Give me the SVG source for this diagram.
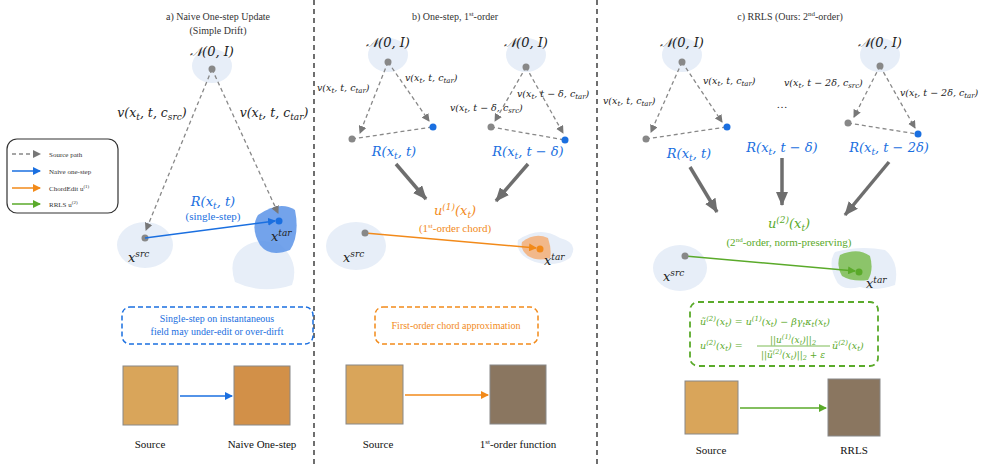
<svg xmlns="http://www.w3.org/2000/svg" width="988" height="464" viewBox="0 0 988 464" font-family="'Liberation Serif','Times New Roman',serif">
<defs>
<marker id="ag" markerWidth="8" markerHeight="8" refX="7" refY="4" orient="auto" markerUnits="userSpaceOnUse"><path d="M0,0 L8,4 L0,8z" fill="#777"/></marker>
<marker id="ab" markerWidth="8" markerHeight="8" refX="7" refY="4" orient="auto" markerUnits="userSpaceOnUse"><path d="M0,0 L8,4 L0,8z" fill="#1a6fe0"/></marker>
<marker id="ao" markerWidth="8" markerHeight="8" refX="7" refY="4" orient="auto" markerUnits="userSpaceOnUse"><path d="M0,0 L8,4 L0,8z" fill="#f28a1a"/></marker>
<marker id="agr" markerWidth="8" markerHeight="8" refX="7" refY="4" orient="auto" markerUnits="userSpaceOnUse"><path d="M0,0 L8,4 L0,8z" fill="#5aaa2a"/></marker>
<marker id="abig" markerWidth="14" markerHeight="12" refX="13" refY="6" orient="auto" markerUnits="userSpaceOnUse"><path d="M0,0 L14,6 L0,12z" fill="#6e6e6e"/></marker>
</defs>
<style>
text{font-family:"Liberation Serif","Times New Roman",serif}
.t{fill:#333;font-weight:normal}
.m{font-family:"DejaVu Serif","Liberation Serif",serif;font-style:italic;fill:#222}
.bl{fill:#1a6fe0}.or{fill:#f28a1a}.gr{fill:#5aaa2a}
.blob{fill:#e7eef8}
.sd{stroke:#888;stroke-width:1.3;stroke-dasharray:4 3;fill:none}
.big{stroke:#6e6e6e;stroke-width:3.5;fill:none}
.div{stroke:#222;stroke-width:1.3;stroke-dasharray:5 4}
</style>
<rect width="988" height="464" fill="#fff"/>
<line class="div" x1="314" y1="0" x2="314" y2="464"/>
<line class="div" x1="597" y1="0" x2="597" y2="464"/>

<g id="legend">
<rect x="7" y="139" width="111" height="74" rx="10" fill="#fff" stroke="#333" stroke-width="1.2"/>
<line x1="12" y1="154" x2="40" y2="154" class="sd" marker-end="url(#ag)"/>
<line x1="12" y1="171" x2="40" y2="171" stroke="#1a6fe0" stroke-width="1.5" marker-end="url(#ab)"/>
<line x1="12" y1="188" x2="40" y2="188" stroke="#f28a1a" stroke-width="1.5" marker-end="url(#ao)"/>
<line x1="12" y1="204" x2="40" y2="204" stroke="#5aaa2a" stroke-width="1.5" marker-end="url(#agr)"/>
<text class="t" x="49" y="157" font-size="7">Source path</text>
<text class="t" x="49" y="174" font-size="7">Naive one-step</text>
<text class="t" x="49" y="191" font-size="7">ChordEdit u<tspan font-size="5" dy="-3">(1)</tspan></text>
<text class="t" x="49" y="207" font-size="7">RRLS u<tspan font-size="5" dy="-3">(2)</tspan></text>
</g>

<g id="panel-a">
<text class="t" x="218" y="20" font-size="10" text-anchor="middle">a) Naive One-step Update</text>
<text class="t" x="218" y="34" font-size="10" text-anchor="middle">(Simple Drift)</text>
<ellipse class="blob" cx="212" cy="66" rx="20" ry="17"/>
<text class="m" x="212" y="56" font-size="13" text-anchor="middle">𝒩(0, I)</text>
<ellipse class="blob" cx="145" cy="245" rx="28" ry="23"/>
<path d="M240,250 Q255,236 280,244 Q300,262 292,285 Q262,295 235,282 Q228,262 240,250z" class="blob"/>
<path d="M258,215 Q280,200 295,210 Q300,235 290,250 Q270,258 260,245 Q250,228 258,215z" fill="#5b93e8" opacity="0.85"/>
<line class="sd" x1="212" y1="69" x2="146" y2="230" marker-end="url(#ag)"/>
<line class="sd" x1="212" y1="69" x2="278" y2="213" marker-end="url(#ag)"/>
<circle cx="212" cy="69" r="3.5" fill="#888"/>
<circle cx="145" cy="238" r="3.5" fill="#888"/>
<circle cx="279" cy="221" r="3.5" fill="#1a6fe0"/>
<line x1="145" y1="238" x2="275" y2="221" stroke="#1a6fe0" stroke-width="1.5" marker-end="url(#ab)"/>
<text class="m" x="152" y="117" font-size="12.5" text-anchor="middle">v(x<tspan font-size="9" dy="3">t</tspan><tspan dy="-3">, t, c</tspan><tspan font-size="9" dy="3">src</tspan><tspan dy="-3">)</tspan></text>
<text class="m" x="274" y="117" font-size="12.5" text-anchor="middle">v(x<tspan font-size="9" dy="3">t</tspan><tspan dy="-3">, t, c</tspan><tspan font-size="9" dy="3">tar</tspan><tspan dy="-3">)</tspan></text>
<text class="m bl" x="213" y="206" font-size="13" text-anchor="middle">R(x<tspan font-size="9" dy="3">t</tspan><tspan dy="-3">, t)</tspan></text>
<text class="t" x="213" y="220" font-size="11" text-anchor="middle" style="fill:#1a6fe0">(single-step)</text>
<text class="m" x="128" y="262" font-size="13">x<tspan font-size="9" dy="-5">src</tspan></text>
<text class="m" x="271" y="241" font-size="13">x<tspan font-size="9" dy="-5">tar</tspan></text>
<rect x="122" y="307" width="191" height="37" rx="8" fill="none" stroke="#1a6fe0" stroke-width="1.5" stroke-dasharray="5 3"/>
<text class="t" x="217" y="322" font-size="10" text-anchor="middle" style="fill:#1a6fe0">Single-step on instantaneous</text>
<text class="t" x="217" y="335" font-size="10" text-anchor="middle" style="fill:#1a6fe0">field may under-edit or over-dirft</text>
<rect x="123" y="366" width="55" height="59" fill="#d9a55a" stroke="#888"/>
<rect x="234" y="366" width="56" height="59" fill="#d29048" stroke="#888"/>
<line x1="180" y1="396" x2="232" y2="396" stroke="#1a6fe0" stroke-width="1.3" marker-end="url(#ab)"/>
<text class="t" x="150" y="448" font-size="11" text-anchor="middle" style="fill:#111">Source</text>
<text class="t" x="262" y="448" font-size="11" text-anchor="middle" style="fill:#111">Naive One-step</text>
</g>

<g id="panel-b">
<text class="t" x="455" y="20" font-size="10" text-anchor="middle">b) One-step, 1<tspan font-size="7" dy="-4">st</tspan><tspan dy="4">-order</tspan></text>
<ellipse class="blob" cx="388" cy="55" rx="20" ry="17"/>
<ellipse class="blob" cx="526" cy="55" rx="20" ry="17"/>
<text class="m" x="388" y="47" font-size="13" text-anchor="middle">𝒩(0, I)</text>
<text class="m" x="526" y="47" font-size="13" text-anchor="middle">𝒩(0, I)</text>
<line class="sd" x1="388" y1="62" x2="360" y2="133" marker-end="url(#ag)"/>
<line class="sd" x1="388" y1="62" x2="429" y2="121" marker-end="url(#ag)"/>
<line class="sd" x1="352" y1="139" x2="432" y2="127"/>
<circle cx="388" cy="62" r="3.5" fill="#888"/><circle cx="352" cy="139" r="3.5" fill="#888"/><circle cx="433" cy="127" r="3.5" fill="#1a6fe0"/>
<line class="sd" x1="526" y1="67" x2="495" y2="121" marker-end="url(#ag)"/>
<line class="sd" x1="526" y1="67" x2="563" y2="133" marker-end="url(#ag)"/>
<line class="sd" x1="491" y1="127" x2="565" y2="140"/>
<circle cx="526" cy="67" r="3.5" fill="#888"/><circle cx="491" cy="127" r="3.5" fill="#888"/><circle cx="565" cy="140" r="3.5" fill="#1a6fe0"/>
<text class="m" x="317" y="91" font-size="9.5">v(x<tspan font-size="7" dy="2">t</tspan><tspan dy="-2">, t, c</tspan><tspan font-size="7" dy="2">tar</tspan><tspan dy="-2">)</tspan></text>
<text class="m" x="405" y="81" font-size="9.5">v(x<tspan font-size="7" dy="2">t</tspan><tspan dy="-2">, t, c</tspan><tspan font-size="7" dy="2">tar</tspan><tspan dy="-2">)</tspan></text>
<text class="m" x="517" y="97" font-size="9.5">v(x<tspan font-size="7" dy="2">t</tspan><tspan dy="-2">, t − δ, c</tspan><tspan font-size="7" dy="2">tar</tspan><tspan dy="-2">)</tspan></text>
<text class="m" x="450" y="111" font-size="9.5">v(x<tspan font-size="7" dy="2">t</tspan><tspan dy="-2">, t − δ, c</tspan><tspan font-size="7" dy="2">src</tspan><tspan dy="-2">)</tspan></text>
<text class="m bl" x="394" y="156" font-size="13" text-anchor="middle">R(x<tspan font-size="9" dy="3">t</tspan><tspan dy="-3">, t)</tspan></text>
<text class="m bl" x="528" y="156" font-size="13" text-anchor="middle">R(x<tspan font-size="9" dy="3">t</tspan><tspan dy="-3">, t − δ)</tspan></text>
<line class="big" x1="396" y1="164" x2="426" y2="199" marker-end="url(#abig)"/>
<line class="big" x1="528" y1="164" x2="496" y2="201" marker-end="url(#abig)"/>
<text class="m or" x="455" y="215" font-size="13" text-anchor="middle">u<tspan font-size="9" dy="-5">(1)</tspan><tspan dy="5">(x</tspan><tspan font-size="9" dy="3">t</tspan><tspan dy="-3">)</tspan></text>
<text class="t" x="455" y="232" font-size="11" text-anchor="middle" style="fill:#f28a1a">(1<tspan font-size="7" dy="-4">st</tspan><tspan dy="4">-order chord)</tspan></text>
<ellipse class="blob" cx="356" cy="246" rx="30" ry="24"/>
<path d="M518,240 Q540,225 560,238 Q580,243 570,258 Q555,268 535,262 Q515,255 518,240z" class="blob"/>
<path d="M522,242 Q535,232 548,238 Q552,250 550,258 Q538,262 528,256 Q520,250 522,242z" fill="#f2b88a"/>
<line x1="365" y1="233" x2="536" y2="248" stroke="#f28a1a" stroke-width="1.5" marker-end="url(#ao)"/>
<circle cx="365" cy="233" r="3.5" fill="#888"/><circle cx="540" cy="249" r="3.5" fill="#f28a1a"/>
<text class="m" x="343" y="262" font-size="13">x<tspan font-size="9" dy="-5">src</tspan></text>
<text class="m" x="544" y="265" font-size="13">x<tspan font-size="9" dy="-5">tar</tspan></text>
<rect x="375" y="307" width="163" height="37" rx="8" fill="none" stroke="#f28a1a" stroke-width="1.5" stroke-dasharray="5 3"/>
<text class="t" x="456" y="329" font-size="10" text-anchor="middle" style="fill:#f28a1a">First-order chord approximation</text>
<rect x="346" y="365" width="57" height="59" fill="#d9a55a" stroke="#888"/>
<rect x="490" y="365" width="56" height="59" fill="#8a7660" stroke="#888"/>
<line x1="405" y1="395" x2="488" y2="395" stroke="#f28a1a" stroke-width="1.3" marker-end="url(#ao)"/>
<text class="t" x="378" y="448" font-size="11" text-anchor="middle" style="fill:#111">Source</text>
<text class="t" x="518" y="448" font-size="11" text-anchor="middle" style="fill:#111">1<tspan font-size="7" dy="-4">st</tspan><tspan dy="4">-order function</tspan></text>
</g>

<g id="panel-c">
<text class="t" x="790" y="20" font-size="10" text-anchor="middle">c) RRLS (Ours: 2<tspan font-size="7" dy="-4">nd</tspan><tspan dy="4">-order)</tspan></text>
<ellipse class="blob" cx="682" cy="55" rx="20" ry="17"/>
<ellipse class="blob" cx="880" cy="55" rx="20" ry="17"/>
<text class="m" x="682" y="47" font-size="13" text-anchor="middle">𝒩(0, I)</text>
<text class="m" x="880" y="47" font-size="13" text-anchor="middle">𝒩(0, I)</text>
<line class="sd" x1="682" y1="62" x2="651" y2="132" marker-end="url(#ag)"/>
<line class="sd" x1="682" y1="62" x2="722" y2="122" marker-end="url(#ag)"/>
<line class="sd" x1="646" y1="139" x2="726" y2="127"/>
<circle cx="682" cy="62" r="3.5" fill="#888"/><circle cx="646" cy="139" r="3.5" fill="#888"/><circle cx="727" cy="127" r="3.5" fill="#1a6fe0"/>
<line class="sd" x1="880" y1="66" x2="854" y2="117" marker-end="url(#ag)"/>
<line class="sd" x1="880" y1="66" x2="915" y2="128" marker-end="url(#ag)"/>
<line class="sd" x1="848" y1="123" x2="917" y2="134"/>
<circle cx="880" cy="66" r="3.5" fill="#888"/><circle cx="848" cy="123" r="3.5" fill="#888"/><circle cx="918" cy="134" r="3.5" fill="#1a6fe0"/>
<text class="m" x="603" y="104" font-size="9.5">v(x<tspan font-size="7" dy="2">t</tspan><tspan dy="-2">, t, c</tspan><tspan font-size="7" dy="2">tar</tspan><tspan dy="-2">)</tspan></text>
<text class="m" x="703" y="84" font-size="9.5">v(x<tspan font-size="7" dy="2">t</tspan><tspan dy="-2">, t, c</tspan><tspan font-size="7" dy="2">tar</tspan><tspan dy="-2">)</tspan></text>
<text class="m" x="784" y="86" font-size="9.5">v(x<tspan font-size="7" dy="2">t</tspan><tspan dy="-2">, t − 2δ, c</tspan><tspan font-size="7" dy="2">src</tspan><tspan dy="-2">)</tspan></text>
<text class="m" x="900" y="96" font-size="9.5">v(x<tspan font-size="7" dy="2">t</tspan><tspan dy="-2">, t − 2δ, c</tspan><tspan font-size="7" dy="2">tar</tspan><tspan dy="-2">)</tspan></text>
<text class="t" x="782" y="108" font-size="11" text-anchor="middle" style="fill:#222">…</text>
<text class="m bl" x="689" y="158" font-size="13" text-anchor="middle">R(x<tspan font-size="9" dy="3">t</tspan><tspan dy="-3">, t)</tspan></text>
<text class="m bl" x="782" y="152" font-size="13" text-anchor="middle">R(x<tspan font-size="9" dy="3">t</tspan><tspan dy="-3">, t − δ)</tspan></text>
<text class="m bl" x="889" y="152" font-size="13" text-anchor="middle">R(x<tspan font-size="9" dy="3">t</tspan><tspan dy="-3">, t − 2δ)</tspan></text>
<line class="big" x1="690" y1="167" x2="717" y2="212" marker-end="url(#abig)"/>
<line class="big" x1="782" y1="158" x2="782" y2="205" marker-end="url(#abig)"/>
<line class="big" x1="889" y1="162" x2="845" y2="215" marker-end="url(#abig)"/>
<text class="m gr" x="789" y="228" font-size="13" text-anchor="middle">u<tspan font-size="9" dy="-5">(2)</tspan><tspan dy="5">(x</tspan><tspan font-size="9" dy="3">t</tspan><tspan dy="-3">)</tspan></text>
<text class="t" x="789" y="246" font-size="11" text-anchor="middle" style="fill:#5aaa2a">(2<tspan font-size="7" dy="-4">nd</tspan><tspan dy="4">-order, norm-preserving)</tspan></text>
<ellipse class="blob" cx="680" cy="268" rx="27" ry="23"/>
<path d="M835,252 Q860,245 885,250 Q900,262 895,285 Q875,292 860,287 Q840,292 835,278 Q828,262 835,252z" class="blob"/>
<path d="M840,255 Q858,247 870,256 Q874,270 868,280 Q852,282 842,276 Q836,265 840,255z" fill="#8cc46a"/>
<line x1="685" y1="256" x2="855" y2="271" stroke="#5aaa2a" stroke-width="1.5" marker-end="url(#agr)"/>
<circle cx="685" cy="256" r="3.5" fill="#888"/><circle cx="859" cy="272" r="3.5" fill="#5aaa2a"/>
<text class="m" x="663" y="281" font-size="13">x<tspan font-size="9" dy="-5">src</tspan></text>
<text class="m" x="866" y="288" font-size="13">x<tspan font-size="9" dy="-5">tar</tspan></text>
<rect x="690" y="302" width="188" height="64" rx="8" fill="none" stroke="#5aaa2a" stroke-width="1.8" stroke-dasharray="6 4"/>
<text class="m" x="700" y="325" font-size="9.5" style="fill:#5aaa2a">ũ<tspan font-size="7" dy="-4">(2)</tspan><tspan dy="4">(x</tspan><tspan font-size="7" dy="2">t</tspan><tspan dy="-2">) = u</tspan><tspan font-size="7" dy="-4">(1)</tspan><tspan dy="4">(x</tspan><tspan font-size="7" dy="2">t</tspan><tspan dy="-2">) − βγ</tspan><tspan font-size="7" dy="2">t</tspan><tspan dy="-2">κ</tspan><tspan font-size="7" dy="2">t</tspan><tspan dy="-2">(x</tspan><tspan font-size="7" dy="2">t</tspan><tspan dy="-2">)</tspan></text>
<text class="m" x="700" y="349" font-size="9.5" style="fill:#5aaa2a">u<tspan font-size="7" dy="-4">(2)</tspan><tspan dy="4">(x</tspan><tspan font-size="7" dy="2">t</tspan><tspan dy="-2">) =</tspan></text>
<text class="m" x="793" y="343" font-size="9" text-anchor="middle" style="fill:#5aaa2a">||u<tspan font-size="6.5" dy="-4">(1)</tspan><tspan dy="4">(x</tspan><tspan font-size="6.5" dy="2">t</tspan><tspan dy="-2">)||</tspan><tspan font-size="6.5" dy="2">2</tspan></text>
<line x1="757" y1="346" x2="830" y2="346" stroke="#5aaa2a" stroke-width="0.8"/>
<text class="m" x="793" y="358" font-size="9" text-anchor="middle" style="fill:#5aaa2a">||ũ<tspan font-size="6.5" dy="-4">(2)</tspan><tspan dy="4">(x</tspan><tspan font-size="6.5" dy="2">t</tspan><tspan dy="-2">)||</tspan><tspan font-size="6.5" dy="2">2</tspan><tspan dy="-2"> + ε</tspan></text>
<text class="m" x="832" y="349" font-size="9.5" style="fill:#5aaa2a">ũ<tspan font-size="7" dy="-4">(2)</tspan><tspan dy="4">(x</tspan><tspan font-size="7" dy="2">t</tspan><tspan dy="-2">)</tspan></text>
<rect x="685" y="381" width="53" height="53" fill="#d9a55a" stroke="#888"/>
<rect x="828" y="379" width="52" height="57" fill="#8a7660" stroke="#888"/>
<line x1="740" y1="408" x2="826" y2="408" stroke="#5aaa2a" stroke-width="1.3" marker-end="url(#agr)"/>
<text class="t" x="711" y="454" font-size="11" text-anchor="middle" style="fill:#111">Source</text>
<text class="t" x="854" y="454" font-size="11" text-anchor="middle" style="fill:#111">RRLS</text>
</g>
</svg>
